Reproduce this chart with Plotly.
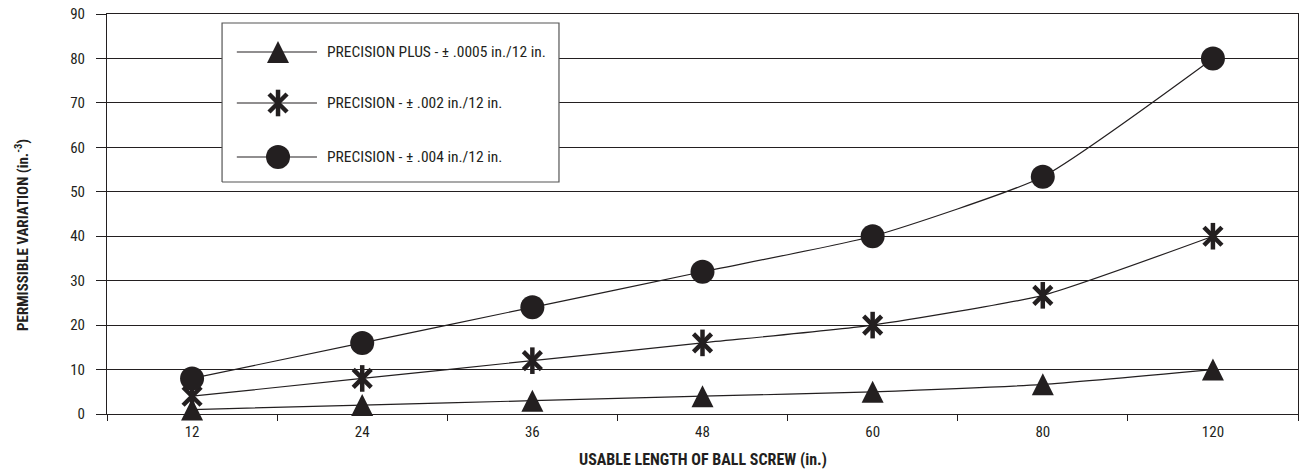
import plotly.graph_objects as go

lengths = ["12", "24", "36", "48", "60", "80", "120"]
precision_plus = [1, 2, 3, 4, 5, 6.67, 10]
precision_002 = [4, 8, 12, 16, 20, 26.7, 40]
precision_004 = [8, 16, 24, 32, 40, 53.4, 80]

legend_labels = [
    "PRECISION PLUS - ± .0005 in./12 in.",
    "PRECISION - ± .002 in./12 in.",
    "PRECISION - ± .004 in./12 in.",
]

INK = "#231f20"
FONT = "Liberation Sans Narrow, Roboto Condensed, Arial Narrow, sans-serif"
LINE = dict(color=INK, width=1.2, shape="spline", smoothing=0.5)

# marker looks; the triangle is a flipped arrow pushed back so it sits centred and tall
TRI = dict(symbol="arrow-down", angle=180, size=22, standoff=11, color=INK, line=dict(width=0))
STAR_X = dict(symbol="x-thin-open", size=18, color=INK, line=dict(color=INK, width=4.5))
STAR_V = dict(symbol="line-ns-open", size=19, color=INK, line=dict(color=INK, width=4.5))
DOT = dict(symbol="circle", size=24, color=INK, line=dict(width=0))

fig = go.Figure()

fig.add_trace(go.Scatter(x=lengths, y=precision_plus, mode="lines+markers",
                         line=LINE, marker=TRI, cliponaxis=False))
fig.add_trace(go.Scatter(x=lengths, y=precision_002, mode="lines+markers",
                         line=LINE, marker=STAR_X, cliponaxis=False))
fig.add_trace(go.Scatter(x=lengths, y=precision_002, mode="markers",
                         marker=STAR_V, cliponaxis=False))
fig.add_trace(go.Scatter(x=lengths, y=precision_004, mode="lines+markers",
                         line=LINE, marker=DOT, cliponaxis=False))

# hand-made legend on an overlay axis that runs 0..1 over the plot area
box_x0, box_x1, box_y0, box_y1 = 0.0966, 0.3795, 0.58, 0.9775
item_y = [0.905, 0.7775, 0.6425]
seg_x0, seg_x1, mark_x, text_x = 0.109, 0.1763, 0.1436, 0.183

leg = dict(xaxis="x2", yaxis="y2", cliponaxis=False, hoverinfo="skip")
fig.add_trace(go.Scatter(x=[box_x0, box_x1, box_x1, box_x0, box_x0],
                         y=[box_y0, box_y0, box_y1, box_y1, box_y0],
                         mode="lines", fill="toself", fillcolor="white",
                         line=dict(color="#555555", width=1.2), **leg))
for yy in item_y:
    fig.add_trace(go.Scatter(x=[seg_x0, seg_x1], y=[yy, yy], mode="lines",
                             line=dict(color=INK, width=1.2), **leg))
for marker, yy in [(TRI, item_y[0]), (STAR_X, item_y[1]), (STAR_V, item_y[1]), (DOT, item_y[2])]:
    fig.add_trace(go.Scatter(x=[mark_x], y=[yy], mode="markers", marker=marker, **leg))

annotations = []
for yy, label in zip(item_y, legend_labels):
    annotations.append(dict(xref="paper", yref="paper", x=text_x, y=yy,
                            xanchor="left", yanchor="middle", showarrow=False,
                            text=label, font=dict(size=15.5, color=INK)))

annotations.append(dict(xref="paper", yref="paper", x=0.5, y=-0.1125,
                        xanchor="center", yanchor="middle", showarrow=False,
                        text="<b>USABLE LENGTH OF BALL SCREW (in.)</b>",
                        font=dict(size=16, color=INK)))
annotations.append(dict(xref="paper", yref="paper", x=-0.0714, y=0.4475,
                        xanchor="center", yanchor="middle", showarrow=False,
                        textangle=-90,
                        text="<b>PERMISSIBLE VARIATION (in.<sup>-3</sup>)</b>",
                        font=dict(size=15, color=INK)))

fig.update_xaxes(
    type="category", range=[-0.5, 6.5], automargin=False,
    tickson="boundaries", ticks="outside", ticklen=6, tickcolor=INK,
    showline=True, linecolor=INK, linewidth=1, mirror=True,
    showgrid=False, ticklabelstandoff=4,
    tickfont=dict(size=15, color=INK),
)
fig.update_yaxes(
    range=[0, 90], dtick=10, ticks="outside", ticklen=10, tickcolor=INK,
    showline=True, linecolor=INK, linewidth=1, mirror=True, automargin=False,
    showgrid=True, gridcolor=INK, gridwidth=1, zeroline=False,
    ticklabelstandoff=8,
    tickfont=dict(size=15, color=INK),
)
fig.update_layout(
    width=1301, height=470,
    font=dict(family=FONT, color=INK),
    paper_bgcolor="white", plot_bgcolor="white",
    margin=dict(l=107, r=3, t=14, b=56),
    showlegend=False,
    xaxis2=dict(overlaying="x", range=[0, 1], visible=False, fixedrange=True),
    yaxis2=dict(overlaying="y", range=[0, 1], visible=False, fixedrange=True),
    annotations=annotations,
)

# the page body has a default 8px margin; drop it so the figure sits at 0,0
fig.write_html("out.html", config={"displayModeBar": False},
               post_script="document.body.style.margin='0';")
